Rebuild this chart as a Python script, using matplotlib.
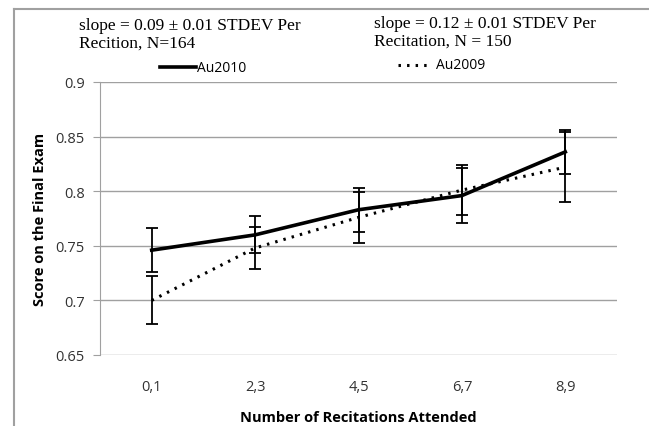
import matplotlib.pyplot as plt
from matplotlib.lines import Line2D

# Data
groups = ["0,1", "2,3", "4,5", "6,7", "8,9"]
au2010 = [0.746, 0.760, 0.783, 0.796, 0.836]
au2010_err = [0.020, 0.017, 0.020, 0.025, 0.020]
au2009 = [0.700, 0.748, 0.776, 0.801, 0.822]
au2009_err = [0.022, 0.019, 0.023, 0.023, 0.032]
yticks = [0.65, 0.7, 0.75, 0.8, 0.85, 0.9]

fig = plt.figure(figsize=(6.49, 4.27), dpi=100)
W, H = 649, 427
ax = fig.add_axes([100 / W, 1 - 356 / H, 517 / W, 273 / H])

x = list(range(len(groups)))
dotted = (0, (0.8, 2))
ax.errorbar(x, au2010, yerr=au2010_err, color="black", lw=2.6, capsize=4,
            elinewidth=1.3, capthick=1.3)
ax.errorbar(x, au2009, yerr=au2009_err, color="black", lw=2.2, ls=dotted,
            capsize=4, elinewidth=1.3, capthick=1.3)

ax.set_xlim(-0.5, 4.5)
ax.set_ylim(0.65, 0.9)
ax.set_yticks(yticks)
ax.set_yticklabels([f"{v:g}" for v in yticks])
ax.set_xticks(x)
ax.set_xticklabels(groups)
ax.yaxis.grid(True, color="#a0a0a0", lw=1)
ax.set_axisbelow(True)
for s in ["top", "right", "bottom"]:
    ax.spines[s].set_visible(False)
ax.spines["left"].set_color("#a0a0a0")
ax.tick_params(axis="y", length=5, color="#a0a0a0", labelsize=10.5, pad=6)
ax.tick_params(axis="x", length=0, labelsize=10.5, pad=17)
for lab in ax.get_xticklabels() + ax.get_yticklabels():
    lab.set_family("Open Sans")
    lab.set_color("#333333")
ax.set_xlabel("Number of Recitations Attended", fontsize=10.5, fontweight="bold",
              family="Open Sans", labelpad=12)
ax.set_ylabel("Score on the Final Exam", fontsize=10.5, fontweight="bold",
              family="Open Sans", labelpad=6)

# outer frame (left and top only)
fig.add_artist(Line2D([14 / W, 14 / W], [0, 1 - 10 / H], color="#a0a0a0", lw=1.5))
fig.add_artist(Line2D([14 / W, 1], [1 - 10 / H, 1 - 10 / H], color="#a0a0a0", lw=1.5))

# legend area annotations
fig.text(79 / W, 1 - 35 / H, "slope = 0.09 ± 0.01 STDEV Per\nRecition, N=164",
         family="Liberation Serif", fontsize=12.5, va="center", linespacing=1.1)
fig.text(374 / W, 1 - 33 / H, "slope = 0.12 ± 0.01 STDEV Per\nRecitation, N = 150",
         family="Liberation Serif", fontsize=12.5, va="center", linespacing=1.1)
fig.add_artist(Line2D([160 / W, 196 / W], [1 - 68 / H, 1 - 68 / H], color="black", lw=2.6))
fig.text(197 / W, 1 - 68 / H, "Au2010", family="Open Sans", fontsize=10, va="center")
fig.add_artist(Line2D([398 / W, 432 / W], [1 - 66 / H, 1 - 66 / H], color="black",
                      lw=2.2, ls=dotted))
fig.text(436 / W, 1 - 66 / H, "Au2009", family="Open Sans", fontsize=10, va="center")

fig.savefig("out.png", dpi=100)
